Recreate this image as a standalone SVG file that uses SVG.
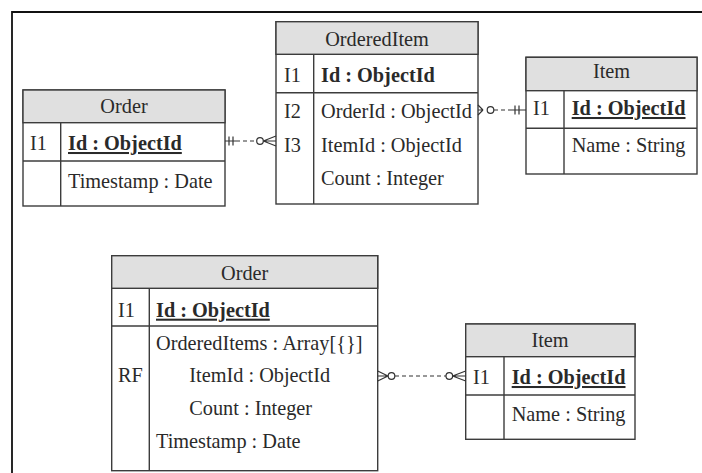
<svg xmlns="http://www.w3.org/2000/svg" width="702" height="473" viewBox="0 0 702 473">
<style>
.frame{fill:none;stroke:#111;stroke-width:1.8}
.box{fill:#fff;stroke:#3c3c3c;stroke-width:1.4}
.hdr{fill:#e0e0e0;stroke:#3c3c3c;stroke-width:1.4}
.ln{stroke:#3c3c3c;stroke-width:1.4;fill:none}
.t{font-size:20.3px;fill:#2a2a2a}
.c{text-anchor:middle}
.b{font-weight:bold}
.u{text-decoration:underline}
.cn{stroke:#333;stroke-width:1.2;fill:none}
.dash{stroke-dasharray:4 3}
.circ{fill:#fff;stroke:#333;stroke-width:1.2}
</style>
<rect width="702" height="473" fill="#fff"/>
<path class="frame" d="M12,480 V12 H710"/>
<g font-family="'Liberation Serif', 'DejaVu Serif', 'Times New Roman', serif">
<g id="order-top">
<rect class="box" x="23" y="90" width="202" height="116"/>
<rect class="hdr" x="23" y="90" width="202" height="32.7"/>
<line class="ln" x1="23" y1="161" x2="225" y2="161"/>
<line class="ln" x1="60.7" y1="122.7" x2="60.7" y2="206"/>
<text class="t c" x="124" y="113">Order</text>
<text class="t" x="30" y="150">I1</text>
<text class="t b u" x="68" y="150">Id : ObjectId</text>
<text class="t" x="68" y="188">Timestamp : Date</text>
</g>

<g id="ordereditem">
<rect class="box" x="276" y="21.7" width="202" height="182.3"/>
<rect class="hdr" x="276" y="21.7" width="202" height="32.6"/>
<line class="ln" x1="276" y1="92.7" x2="478" y2="92.7"/>
<line class="ln" x1="313.7" y1="54.3" x2="313.7" y2="204"/>
<text class="t c" x="377" y="46">OrderedItem</text>
<text class="t" x="284" y="81.7">I1</text>
<text class="t b" x="321" y="81.7">Id : ObjectId</text>
<text class="t" x="284" y="118.3">I2</text>
<text class="t" x="321" y="118.3">OrderId : ObjectId</text>
<text class="t" x="284" y="151.7">I3</text>
<text class="t" x="321" y="151.7">ItemId : ObjectId</text>
<text class="t" x="321" y="185">Count : Integer</text>
</g>

<g id="item-top">
<rect class="box" x="526" y="57.3" width="171" height="116.7"/>
<rect class="hdr" x="526" y="57.3" width="171" height="33.4"/>
<line class="ln" x1="526" y1="128.3" x2="697" y2="128.3"/>
<line class="ln" x1="564" y1="90.7" x2="564" y2="174"/>
<text class="t c" x="611.5" y="78.3">Item</text>
<text class="t" x="533" y="115">I1</text>
<text class="t b u" x="571.7" y="115">Id : ObjectId</text>
<text class="t" x="571.7" y="151.7">Name : String</text>
</g>

<g id="order-bottom">
<rect class="box" x="111.7" y="255.7" width="266" height="215"/>
<rect class="hdr" x="111.7" y="255.7" width="266" height="32.6"/>
<line class="ln" x1="111.7" y1="326" x2="377.7" y2="326"/>
<line class="ln" x1="149.3" y1="288.3" x2="149.3" y2="470.7"/>
<text class="t c" x="244.7" y="280">Order</text>
<text class="t" x="118" y="316.7">I1</text>
<text class="t b u" x="156" y="316.7">Id : ObjectId</text>
<text class="t" x="118" y="381.7">RF</text>
<text class="t" x="156" y="350">OrderedItems : Array[{}]</text>
<text class="t" x="189.3" y="381.7">ItemId : ObjectId</text>
<text class="t" x="189.3" y="415">Count : Integer</text>
<text class="t" x="156" y="448">Timestamp : Date</text>
</g>

<g id="item-bottom">
<rect class="box" x="465.7" y="324" width="169.3" height="115.3"/>
<rect class="hdr" x="465.7" y="324" width="169.3" height="32.7"/>
<line class="ln" x1="465.7" y1="395" x2="635" y2="395"/>
<line class="ln" x1="504" y1="356.7" x2="504" y2="439.3"/>
<text class="t c" x="550" y="346.7">Item</text>
<text class="t" x="473" y="384">I1</text>
<text class="t b u" x="511.7" y="384">Id : ObjectId</text>
<text class="t" x="511.7" y="420.7">Name : String</text>
</g>
</g>
<g id="connectors">
<path class="cn" d="M225,141 H236 M229,136.5 V145.5 M233,136.5 V145.5"/>
<path class="cn dash" d="M236,141 H256.5"/>
<circle class="circ" cx="260" cy="141" r="3.3"/>
<path class="cn" d="M263.3,141 L276,136 M263.3,141 H276 M263.3,141 L276,146"/>
<path class="cn" d="M478,105 L483,110 M478,110 H483 M478,115 L483,110"/>
<circle class="circ" cx="490.5" cy="110" r="3.3"/>
<path class="cn dash" d="M494,110 H512"/>
<path class="cn" d="M512,110 H526 M515,105.5 V114.5 M519,105.5 V114.5"/>
<path class="cn" d="M377.7,371 L388,376 M377.7,376 H388 M377.7,381 L388,376"/>
<circle class="circ" cx="391.5" cy="376" r="3.3"/>
<path class="cn dash" d="M395,376 H446"/>
<circle class="circ" cx="449.3" cy="376" r="3.3"/>
<path class="cn" d="M452.6,376 L465.7,371 M452.6,376 H465.7 M452.6,376 L465.7,381"/>
</g>
</svg>
